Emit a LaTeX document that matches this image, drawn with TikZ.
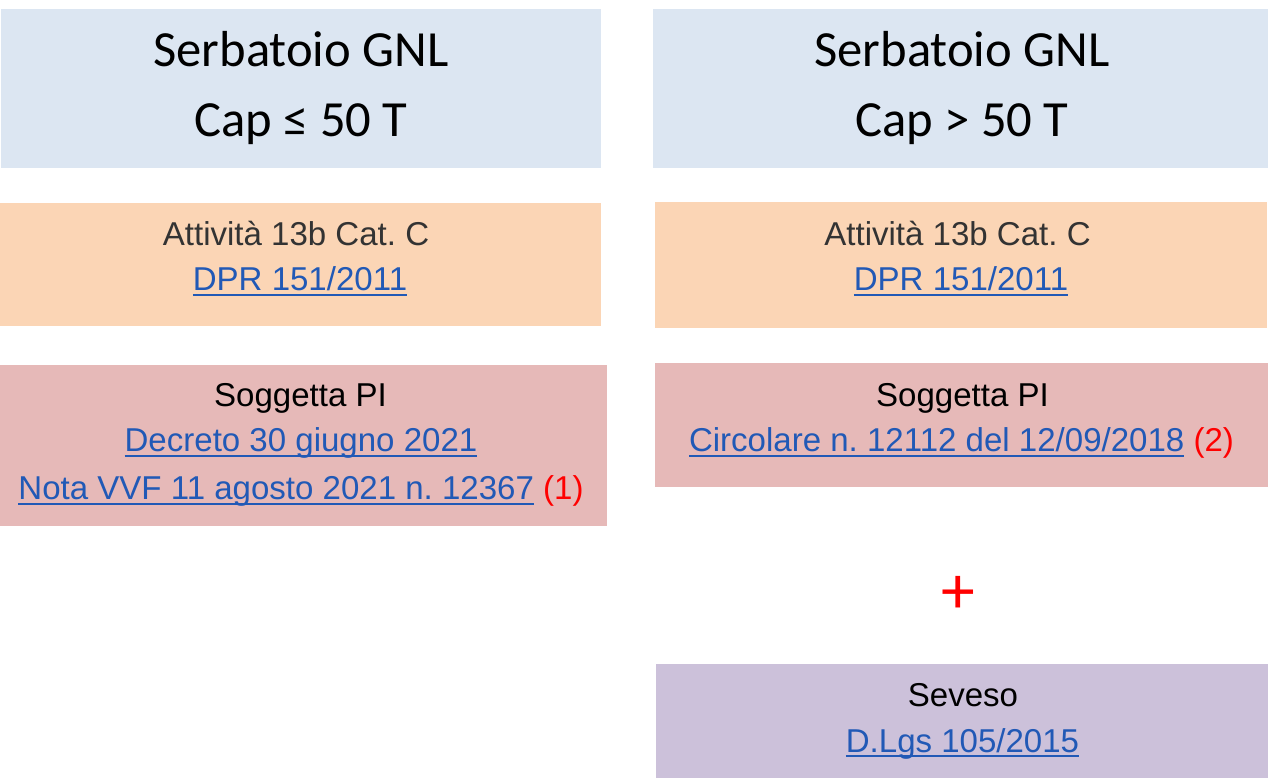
\documentclass[tikz,border=0pt]{standalone}
\usepackage{fontspec}
\setmainfont{Liberation Sans}
\newfontfamily\ttlfont{Carlito}
\usetikzlibrary{positioning}
\frenchspacing

\definecolor{tankblue}{HTML}{DCE6F2}
\definecolor{actorange}{HTML}{FBD5B5}
\definecolor{pipink}{HTML}{E6B9B8}
\definecolor{sevpurple}{HTML}{CCC1DA}
\definecolor{linkblue}{HTML}{2159B6}
\definecolor{actgray}{HTML}{333333}

% underlined link text
\newcommand{\lnk}[1]{\textcolor{linkblue}{\setbox0=\hbox{#1}\rlap{\rule[-3.6pt]{\wd0}{1.6pt}}\box0}}

\tikzset{
  box/.style={rectangle, inner sep=0pt, draw=none},
  ttl/.style={font=\ttlfont\fontsize{36}{36}\selectfont, anchor=base, inner sep=0pt},
  txt/.style={font=\fontsize{23.5}{23.5}\selectfont, anchor=base, inner sep=0pt},
}

\begin{document}
\begin{tikzpicture}[x=0.025cm, y=-0.025cm]
			\useasboundingbox (0,0) rectangle (1272,780);
			
			% Boxes of the left column
			\node[box, fill=tankblue, minimum width=15cm, minimum height=3.975cm] (tankL) at (301,88.5) {};
			\node[box, fill=actorange, minimum width=15.025cm, minimum height=3.075cm] (actL) at (300.5,264.5) {};
			\node[box, fill=pipink, minimum width=15.175cm, minimum height=4.025cm] (piL) at (303.5,445.5) {};
			
			% Boxes of the right column
			\node[box, fill=tankblue, minimum width=15.375cm, minimum height=3.975cm] (tankR) at (960.5,88.5) {};
			\node[box, fill=actorange, minimum width=15.3cm, minimum height=3.15cm] (actR) at (961,265) {};
			\node[box, fill=pipink, minimum width=15.325cm, minimum height=3.1cm] (piR) at (961.5,425) {};
			\node[box, fill=sevpurple, minimum width=15.3cm, minimum height=2.85cm] (sevR) at (962,721) {};
			
			% Texts of the left column
			\node[ttl] (tankLa) at (301,67) {Serbatoio GNL};
			\node[ttl] (tankLb) at (301,137) {Cap ≤ 50 T};
			\node[txt, text=actgray] (actLa) at (296,246) {Attività 13b Cat. C};
			\node[txt] (actLb) at (300,291) {\lnk{DPR 151/2011}};
			\node[txt] (piLa) at (300.5,407) {Soggetta PI};
			\node[txt] (piLb) at (301,452) {\lnk{Decreto 30 giugno 2021}};
			\node[txt] (piLc) at (301,500) {\lnk{Nota VVF 11 agosto 2021 n. 12367} \textcolor{red}{(1)}};
			
			% Texts of the right column
			\node[ttl] (tankRa) at (962,67) {Serbatoio GNL};
			\node[ttl] (tankRb) at (962,137) {Cap > 50 T};
			\node[txt, text=actgray] (actRa) at (957.5,246) {Attività 13b Cat. C};
			\node[txt] (actRb) at (961,291) {\lnk{DPR 151/2011}};
			\node[txt] (piRa) at (962.5,407) {Soggetta PI};
			\node[txt] (piRb) at (961.5,452) {\lnk{Circolare n. 12112 del 12/09/2018} \textcolor{red}{(2)}};
			\node[txt] (sevRa) at (963,707) {Seveso};
			\node[txt] (sevRb) at (962.5,752) {\lnk{D.Lgs 105/2015}};
			
			% Plus sign
			\node[font=\ttlfont\fontsize{48}{48}\selectfont, text=red, inner sep=0pt] (plus) at (958.5,595) {+};
	\end{tikzpicture}
\end{document}
